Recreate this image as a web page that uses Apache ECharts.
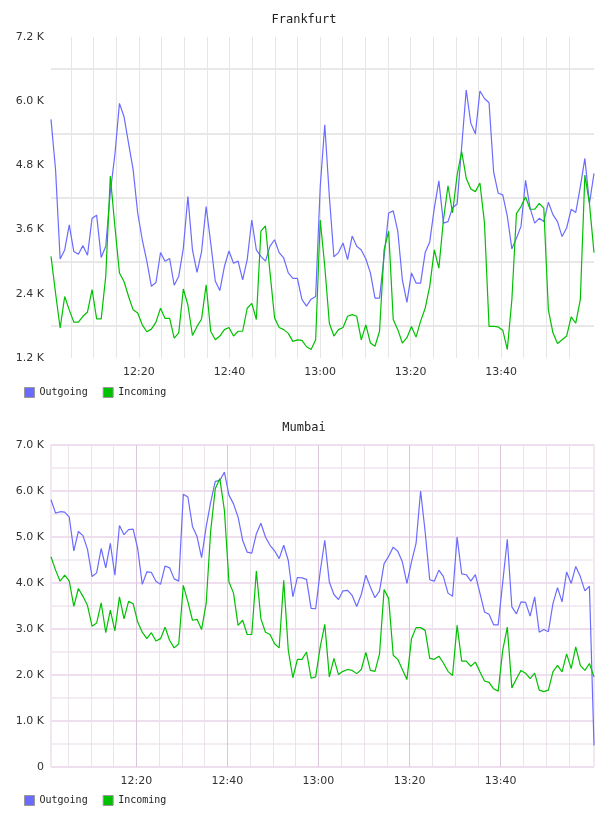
<!DOCTYPE html>
<html>
<head>
<meta charset="utf-8">
<script src="https://cdn.jsdelivr.net/npm/echarts@6/dist/echarts.min.js"></script>
<style>
  html, body { margin: 0; padding: 0; background: #fff; }
  #chart { width: 608px; height: 816px; }
</style>
</head>
<body>
<div id="chart"></div>
<script>
// time in minutes after 12:00, one sample roughly every minute
const fraStart = 0.57, fraStep = 1.008
const mumStart = 1.27, mumStep = 1.002

// Frankfurt, values in K
const fraOutgoing = [
  5.66, 4.72, 3.05, 3.22, 3.69, 3.19, 3.14, 3.30, 3.12, 3.81,
  3.87, 3.08, 3.29, 4.30, 5.00, 5.96, 5.71, 5.21, 4.72, 3.91,
  3.41, 3.01, 2.54, 2.61, 3.17, 3.01, 3.06, 2.56, 2.73, 3.25,
  4.22, 3.22, 2.80, 3.19, 4.03, 3.35, 2.64, 2.46, 2.91, 3.20,
  2.97, 3.01, 2.66, 3.04, 3.78, 3.22, 3.10, 3.01, 3.29, 3.41,
  3.17, 3.07, 2.79, 2.69, 2.69, 2.29, 2.17, 2.30, 2.35, 4.40,
  5.56, 4.22, 3.09, 3.17, 3.35, 3.04, 3.48, 3.29, 3.22, 3.05,
  2.79, 2.32, 2.32, 3.10, 3.91, 3.95, 3.57, 2.66, 2.24, 2.79,
  2.60, 2.60, 3.17, 3.37, 4.00, 4.51, 3.72, 3.75, 4.01, 4.08,
  5.15, 6.21, 5.59, 5.39, 6.19, 6.05, 5.97, 4.68, 4.28, 4.25,
  3.85, 3.24, 3.44, 3.66, 4.52, 4.00, 3.72, 3.81, 3.75, 4.11,
  3.88, 3.75, 3.47, 3.63, 3.98, 3.92, 4.40, 4.93, 4.09, 4.65
]
const fraIncoming = [
  3.10, 2.41, 1.76, 2.35, 2.10, 1.87, 1.87, 1.98, 2.06, 2.48,
  1.93, 1.93, 2.73, 4.60, 3.66, 2.79, 2.63, 2.35, 2.10, 2.04,
  1.82, 1.69, 1.74, 1.87, 2.13, 1.94, 1.94, 1.57, 1.67, 2.49,
  2.19, 1.62, 1.79, 1.93, 2.57, 1.70, 1.54, 1.61, 1.73, 1.77,
  1.61, 1.70, 1.70, 2.13, 2.22, 1.92, 3.57, 3.67, 2.79, 1.95,
  1.77, 1.73, 1.66, 1.51, 1.54, 1.53, 1.41, 1.36, 1.54, 3.78,
  2.91, 1.85, 1.61, 1.73, 1.77, 1.98, 2.01, 1.98, 1.54, 1.82,
  1.48, 1.42, 1.70, 3.22, 3.57, 1.92, 1.73, 1.48, 1.58, 1.79,
  1.59, 1.89, 2.13, 2.54, 3.22, 2.88, 3.78, 4.42, 3.91, 4.62,
  5.06, 4.56, 4.36, 4.31, 4.47, 3.72, 1.79, 1.79, 1.78, 1.72,
  1.36, 2.29, 3.90, 4.03, 4.21, 3.98, 3.98, 4.09, 4.00, 2.10,
  1.67, 1.47, 1.54, 1.61, 1.97, 1.85, 2.29, 4.62, 4.09, 3.17
]

// Mumbai, values in K
const mumOutgoing = [
  5.81, 5.52, 5.55, 5.54, 5.43, 4.70, 5.12, 5.03, 4.73, 4.14,
  4.22, 4.75, 4.33, 4.86, 4.17, 5.25, 5.05, 5.16, 5.17, 4.75,
  3.97, 4.24, 4.23, 4.04, 3.97, 4.37, 4.33, 4.09, 4.04, 5.93,
  5.87, 5.23, 5.01, 4.55, 5.22, 5.76, 6.21, 6.23, 6.41, 5.91,
  5.72, 5.43, 4.93, 4.67, 4.65, 5.07, 5.30, 5.00, 4.82, 4.70,
  4.53, 4.82, 4.49, 3.70, 4.12, 4.11, 4.08, 3.45, 3.44, 4.25,
  4.93, 4.02, 3.75, 3.64, 3.83, 3.84, 3.73, 3.49, 3.75, 4.17,
  3.91, 3.68, 3.83, 4.42, 4.58, 4.78, 4.69, 4.46, 3.99, 4.46,
  4.86, 6.00, 5.11, 4.07, 4.04, 4.28, 4.14, 3.78, 3.71, 5.00,
  4.20, 4.18, 4.04, 4.18, 3.78, 3.37, 3.32, 3.09, 3.09, 4.02,
  4.95, 3.48, 3.33, 3.59, 3.58, 3.28, 3.70, 2.93, 2.99, 2.94,
  3.55, 3.90, 3.59, 4.24, 3.99, 4.36, 4.14, 3.83, 3.93, 0.47
]
const mumIncoming = [
  4.57, 4.28, 4.04, 4.17, 4.04, 3.49, 3.88, 3.71, 3.51, 3.06,
  3.13, 3.57, 2.92, 3.41, 2.96, 3.70, 3.22, 3.60, 3.55, 3.15,
  2.93, 2.79, 2.92, 2.74, 2.79, 3.04, 2.75, 2.59, 2.68, 3.95,
  3.59, 3.19, 3.21, 2.99, 3.55, 5.14, 6.05, 6.27, 5.58, 4.02,
  3.78, 3.08, 3.19, 2.88, 2.88, 4.26, 3.22, 2.93, 2.88, 2.68,
  2.59, 4.06, 2.54, 1.94, 2.34, 2.34, 2.50, 1.93, 1.96, 2.61,
  3.10, 1.96, 2.36, 2.01, 2.08, 2.12, 2.10, 2.03, 2.12, 2.49,
  2.10, 2.08, 2.46, 3.86, 3.66, 2.43, 2.34, 2.12, 1.90, 2.79,
  3.03, 3.03, 2.97, 2.36, 2.34, 2.41, 2.26, 2.08, 1.99, 3.08,
  2.30, 2.30, 2.19, 2.28, 2.07, 1.87, 1.84, 1.70, 1.65, 2.54,
  3.04, 1.72, 1.92, 2.10, 2.04, 1.92, 2.04, 1.67, 1.64, 1.67,
  2.07, 2.21, 2.07, 2.46, 2.14, 2.61, 2.21, 2.10, 2.25, 1.96
]

// tick values (minutes after 12:00 / K)
const minuteTicks = [5, 10, 15, 20, 25, 30, 35, 40, 45, 50, 55, 60, 65, 70, 75, 80, 85, 90, 95, 100, 105, 110, 115]
const minuteLabels = [20, 40, 60, 80, 100]
const fraLabelVals = [1.2, 2.4, 3.6, 4.8, 6.0, 7.2]
const fraGridVals = [1.8, 3.0, 4.2, 5.4, 6.6]
const mumLabelVals = [0, 1, 2, 3, 4, 5, 6, 7]

const mono = "'DejaVu Sans Mono', monospace"
const sans = "'DejaVu Sans', sans-serif"
const BLUE = '#6b6bff'
const GREEN = '#00c000'

function toPoints(start, step, values) {
  return values.map((v, i) => [start + i * step, v])
}

function clock(m) {
  let h = 12 + Math.floor(m / 60)
  let mm = Math.round(m % 60)
  return h + ':' + (mm < 10 ? '0' + mm : mm)
}

const fraEnd = fraStart + (fraOutgoing.length - 1) * fraStep
const mumEnd = mumStart + (mumOutgoing.length - 1) * mumStep

const axisText = { fontFamily: sans, fontSize: 11, color: '#333' }

function lineSeries(name, color, xi, yi, data) {
  return {
    name: name, type: 'line', xAxisIndex: xi, yAxisIndex: yi,
    data: data, showSymbol: false, symbol: 'none',
    lineStyle: { color: color, width: 1.2 }, itemStyle: { color: color },
    emphasis: { disabled: true }
  }
}

function legendAt(top) {
  return {
    data: ['Outgoing', 'Incoming'], left: 24, top: top, padding: 0,
    icon: 'rect', itemWidth: 10, itemHeight: 10, itemGap: 15,
    itemStyle: { borderColor: '#999', borderWidth: 1 },
    textStyle: { fontFamily: mono, fontSize: 10, color: '#222' },
    selectedMode: false
  }
}

const chart = echarts.init(document.getElementById('chart'))

chart.setOption({
  animation: false,
  title: [
    { text: 'Frankfurt', left: 'center', top: 14, padding: 0,
      textStyle: { fontFamily: mono, fontSize: 12, fontWeight: 'normal', color: '#222' } },
    { text: 'Mumbai', left: 'center', top: 422, padding: 0,
      textStyle: { fontFamily: mono, fontSize: 12, fontWeight: 'normal', color: '#222' } }
  ],
  legend: [legendAt(387), legendAt(795)],
  grid: [
    { left: 51, top: 37, width: 543, height: 321 },
    { left: 51, top: 445, width: 543, height: 322, show: true, borderColor: '#e2d0e2', borderWidth: 1 }
  ],
  xAxis: [
    {
      type: 'value', gridIndex: 0, min: fraStart, max: fraEnd,
      axisLine: { show: false },
      axisTick: { show: false, customValues: minuteTicks },
      axisLabel: { customValues: minuteLabels, formatter: clock, margin: 9, ...axisText },
      splitLine: { show: true, lineStyle: { color: '#e6e6e6', width: 1 } }
    },
    {
      type: 'value', gridIndex: 1, min: mumStart, max: mumEnd,
      axisLine: { show: false },
      axisTick: { show: false, customValues: minuteTicks },
      axisLabel: { customValues: minuteLabels, formatter: clock, margin: 9, ...axisText },
      splitLine: { show: true, lineStyle: { color: '#ebe2eb', width: 1 } }
    },
    {
      // darker lines every 20 minutes on the Mumbai chart
      type: 'value', gridIndex: 1, position: 'top', min: mumStart, max: mumEnd,
      axisLine: { show: false },
      axisTick: { show: false, customValues: minuteLabels },
      axisLabel: { show: false },
      splitLine: { show: true, lineStyle: { color: '#dcc6dc', width: 1 } }
    }
  ],
  yAxis: [
    {
      type: 'value', gridIndex: 0, min: 1.2, max: 7.2,
      axisLine: { show: false },
      axisTick: { show: false, customValues: fraGridVals },
      axisLabel: { customValues: fraLabelVals, formatter: v => v.toFixed(1) + ' K', margin: 7, ...axisText },
      splitLine: { show: true, lineStyle: { color: '#e8e8e8', width: 2 } }
    },
    {
      type: 'value', gridIndex: 1, min: 0, max: 7, interval: 0.5,
      axisLine: { show: false },
      axisTick: { show: false },
      axisLabel: { customValues: mumLabelVals, formatter: v => (v === 0 ? '0' : v.toFixed(1) + ' K'), margin: 7, ...axisText },
      splitLine: { show: true, lineStyle: { color: ['#eedeee', '#f3edf3'], width: 2 } }
    }
  ],
  series: [
    lineSeries('Outgoing', BLUE, 0, 0, toPoints(fraStart, fraStep, fraOutgoing)),
    lineSeries('Incoming', GREEN, 0, 0, toPoints(fraStart, fraStep, fraIncoming)),
    lineSeries('Outgoing', BLUE, 1, 1, toPoints(mumStart, mumStep, mumOutgoing)),
    lineSeries('Incoming', GREEN, 1, 1, toPoints(mumStart, mumStep, mumIncoming))
  ]
})
</script>
</body>
</html>
